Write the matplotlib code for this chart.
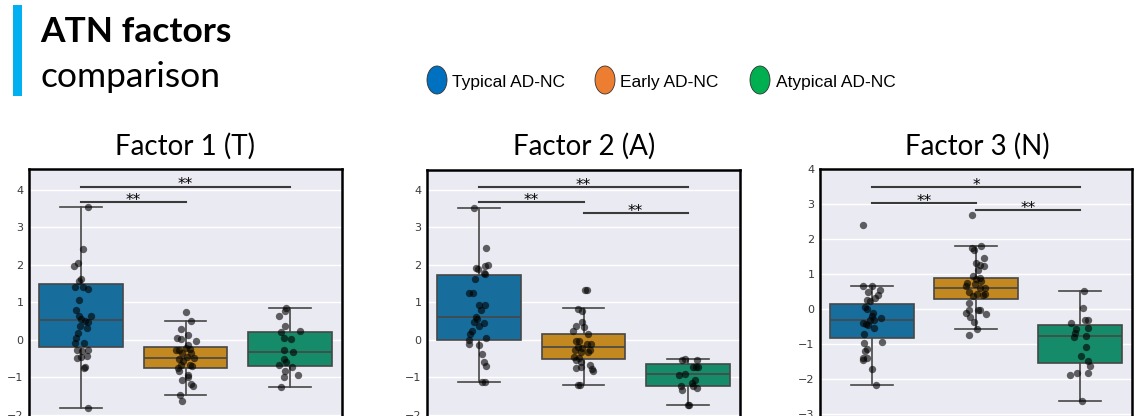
import matplotlib
matplotlib.use('Agg')
import matplotlib.pyplot as plt
from matplotlib import font_manager
from matplotlib.patches import Rectangle, Ellipse
import seaborn as sns

# %% data
groups = ['Typical AD-NC', 'Early AD-NC', 'Atypical AD-NC']
legend_colors = ['#0070C0', '#ED7D31', '#00B050']
panel_titles = ['Factor 1 (T)', 'Factor 2 (A)', 'Factor 3 (N)']

# box stats per factor: typical, early, atypical
f1_lo = [-1.82, -1.47, -1.25]
f1_q1 = [-0.19, -0.74, -0.69]
f1_med = [0.53, -0.47, -0.33]
f1_q3 = [1.48, -0.20, 0.22]
f1_hi = [3.55, 0.51, 0.84]

f2_lo = [-1.13, -1.20, -1.74]
f2_q1 = [-0.01, -0.51, -1.23]
f2_med = [0.60, -0.20, -0.91]
f2_q3 = [1.74, 0.15, -0.65]
f2_hi = [3.51, 0.84, -0.51]

f3_lo = [-2.17, -0.55, -2.62]
f3_q1 = [-0.82, 0.28, -1.54]
f3_med = [-0.31, 0.60, -0.76]
f3_q3 = [0.15, 0.90, -0.45]
f3_hi = [0.67, 1.80, 0.52]

# strip points (value, horizontal jitter)
t1_y = [3.55, 2.42, 2.06, 1.97, 1.62, 1.57, 1.40, 1.42, 1.36, 1.06, 0.80, 0.64, 0.64, 0.55, 0.51, 0.49,
        0.36, 0.33, 0.18, 0.04, -0.09, -0.07, -0.27, -0.29, -0.27, -0.47, -0.46, -0.44, -0.73, -0.76, -1.82]
t1_dx = [0.07, 0.02, -0.03, -0.07, 0.0, -0.02, -0.06, 0.02, 0.07, -0.02, -0.05, -0.02, 0.09, 0.0, 0.04, 0.07,
         -0.01, 0.06, -0.03, -0.05, 0.03, -0.06, -0.04, 0.01, 0.07, -0.04, 0.0, 0.06, 0.04, 0.03, 0.07]
e1_y = [0.74, 0.51, 0.29, 0.13, 0.04, 0.03, -0.04, -0.13, -0.27, -0.28, -0.22, -0.25, -0.36, -0.36, -0.46,
        -0.47, -0.52, -0.56, -0.67, -0.67, -0.69, -0.76, -0.84, -0.93, -1.00, -1.07, -1.18, -1.24, -1.47, -1.63]
e1_dx = [0.0, 0.05, -0.04, 0.02, -0.08, -0.04, 0.10, 0.02, -0.09, -0.06, 0.0, 0.04, -0.03, 0.05, 0.01,
         0.08, -0.06, -0.02, -0.04, 0.04, 0.06, -0.07, -0.06, 0.02, 0.02, -0.03, 0.05, 0.07, -0.05, -0.03]
a1_y = [0.84, 0.76, 0.65, 0.36, 0.24, 0.20, 0.04, 0.03, -0.27, -0.31, -0.50, -0.58, -0.67, -0.71, -0.84,
        -0.93, -1.00, -1.25]
a1_dx = [-0.04, -0.05, -0.10, -0.05, 0.10, -0.08, -0.06, 0.01, -0.06, 0.03, -0.06, -0.04, -0.10, 0.02, -0.05,
         0.08, -0.06, -0.08]

t2_y = [3.51, 2.46, 2.00, 1.98, 1.91, 1.89, 1.78, 1.75, 1.62, 1.24, 1.24, 0.93, 0.92, 0.80, 0.62, 0.55,
        0.49, 0.44, 0.36, 0.25, 0.16, 0.04, 0.00, -0.13, -0.12, -0.37, -0.58, -0.69, -1.13, -1.13]
t2_dx = [-0.05, 0.07, 0.08, 0.06, -0.03, -0.01, 0.05, 0.06, -0.04, -0.10, -0.06, 0.0, 0.06, 0.02, -0.03, -0.02,
         -0.05, 0.05, 0.0, -0.07, -0.09, 0.07, -0.10, 0.0, -0.10, 0.03, 0.05, 0.07, 0.03, 0.06]
e2_y = [1.33, 1.33, 0.83, 0.77, 0.49, 0.38, 0.34, 0.25, 0.15, -0.03, -0.04, -0.11, -0.11, -0.18, -0.22,
        -0.27, -0.27, -0.33, -0.33, -0.46, -0.47, -0.53, -0.60, -0.67, -0.74, -0.71, -0.78, -0.84, -1.20, -1.20]
e2_dx = [0.01, 0.03, -0.05, -0.01, -0.01, -0.07, 0.0, -0.10, 0.04, -0.07, -0.04, 0.03, 0.07, -0.05, -0.01,
         -0.08, 0.06, -0.02, 0.04, -0.09, -0.04, -0.07, -0.02, 0.06, -0.07, -0.02, 0.08, 0.09, -0.05, -0.03]
a2_y = [-0.53, -0.51, -0.53, -0.71, -0.73, -0.71, -0.93, -0.91, -1.07, -1.16, -1.22, -1.24, -1.27, -1.33,
        -1.74, -1.74]
a2_dx = [-0.06, -0.03, 0.09, 0.05, 0.08, 0.10, -0.08, -0.03, 0.07, 0.04, -0.07, 0.05, 0.09, -0.06, 0.0, 0.01]

t3_y = [2.40, 0.67, 0.67, 0.54, 0.48, 0.41, 0.33, 0.26, 0.24, 0.07, 0.02, -0.10, -0.19, -0.26, -0.31, -0.31,
        -0.38, -0.43, -0.46, -0.52, -0.70, -0.92, -0.95, -1.12, -1.19, -1.38, -1.38, -1.45, -1.71, -2.17]
t3_dx = [-0.09, -0.09, 0.0, 0.08, -0.04, 0.06, 0.03, -0.05, -0.02, -0.07, -0.05, 0.01, 0.0, 0.09, 0.02, -0.02,
         -0.09, -0.06, -0.04, 0.02, -0.08, 0.10, -0.08, -0.05, -0.07, -0.09, -0.05, -0.09, 0.0, 0.04]
e3_y = [2.68, 1.80, 1.74, 1.69, 1.47, 1.33, 1.26, 1.22, 1.11, 0.94, 0.90, 0.86, 0.81, 0.74, 0.71, 0.67, 0.62,
        0.60, 0.48, 0.43, 0.43, 0.38, 0.40, 0.19, -0.02, -0.02, -0.03, -0.12, -0.14, -0.22, -0.36, -0.55, -0.73]
e3_dx = [-0.04, 0.05, -0.04, -0.02, 0.08, 0.0, 0.04, 0.08, 0.02, -0.03, 0.04, 0.0, 0.05, -0.09, -0.01, -0.10,
         0.09, 0.04, -0.07, 0.01, 0.09, -0.03, 0.07, -0.07, 0.02, 0.04, -0.07, -0.10, 0.10, -0.06, -0.02, 0.01,
         -0.07]
a3_y = [0.52, 0.05, -0.31, -0.31, -0.38, -0.57, -0.54, -0.67, -0.78, -0.76, -1.08, -1.33, -1.48, -1.62, -1.81,
        -1.81, -1.88, -2.62]
a3_dx = [0.04, 0.03, 0.05, 0.08, -0.09, -0.04, 0.08, -0.05, -0.06, 0.06, 0.06, 0.01, 0.08, 0.10, -0.03, 0.08,
         -0.10, 0.02]

# significance brackets: (from, to), height, label
sig1_pairs = [(0, 1), (0, 2)]
sig1_y = [3.68, 4.09]
sig1_text = ['**', '**']
sig2_pairs = [(0, 1), (0, 2), (1, 2)]
sig2_y = [3.68, 4.07, 3.39]
sig2_text = ['**', '**', '**']
sig3_pairs = [(0, 1), (0, 2), (1, 2)]
sig3_y = [3.02, 3.48, 2.83]
sig3_text = ['**', '*', '**']

ylims = [(-2.27, 4.56), (-2.27, 4.53), (-3.30, 4.0)]

# %% layout helpers
W, H = 1136, 416
fig = plt.figure(figsize=(W / 100, H / 100), dpi=100)


def fx(px):
    return px / W


def fy(py):
    return 1 - py / H


names = {f.name for f in font_manager.fontManager.ttflist}
narrow = 'Liberation Sans Narrow' in names
legend_font = 'Liberation Sans Narrow' if narrow else 'Liberation Sans'
legend_size = 17 if narrow else 12.5

palette = [sns.desaturate(c, 0.75) for c in sns.color_palette('colorblind', 3)]

# header
fig.patches.append(Rectangle((fx(13), fy(96)), fx(9), (96 - 5) / H, transform=fig.transFigure,
                             color='#00B0F0', lw=0))
fig.text(fx(40), fy(42), 'ATN factors', fontsize=25.5, fontweight='bold', family='Lato', va='baseline')
fig.text(fx(40), fy(87), 'comparison', fontsize=25.5, family='Lato', va='baseline')

# legend
for name, col, cx, tx in zip(groups, legend_colors, [437, 605, 760], [452, 620, 776]):
    fig.patches.append(Ellipse((fx(cx), fy(80)), fx(20), 28 / H, transform=fig.transFigure,
                               facecolor=col, edgecolor='#333333', lw=0.6))
    fig.text(fx(tx), fy(87), name, fontsize=legend_size, family=legend_font, va='baseline')

# panels
ax_px = [(29, 342), (427, 740), (820, 1132)]
ax_top = [169, 170, 169]
title_cx = [185, 584, 977]
boxes = [(f1_lo, f1_q1, f1_med, f1_q3, f1_hi),
         (f2_lo, f2_q1, f2_med, f2_q3, f2_hi),
         (f3_lo, f3_q1, f3_med, f3_q3, f3_hi)]
points = [[(t1_y, t1_dx), (e1_y, e1_dx), (a1_y, a1_dx)],
          [(t2_y, t2_dx), (e2_y, e2_dx), (a2_y, a2_dx)],
          [(t3_y, t3_dx), (e3_y, e3_dx), (a3_y, a3_dx)]]
sigs = [(sig1_pairs, sig1_y, sig1_text), (sig2_pairs, sig2_y, sig2_text), (sig3_pairs, sig3_y, sig3_text)]

for i in range(3):
    x0, x1 = ax_px[i]
    bottom = 425
    ax = fig.add_axes([fx(x0), fy(bottom), fx(x1 - x0), (bottom - ax_top[i]) / H])
    ax.set_facecolor('#EAEAF2')
    ax.grid(axis='y', color='white', lw=1.0)
    ax.set_axisbelow(True)

    lo, q1, med, q3, hi = boxes[i]
    stats = [dict(whislo=lo[k], q1=q1[k], med=med[k], q3=q3[k], whishi=hi[k], fliers=[]) for k in range(3)]
    line = dict(color='#474747', lw=1.2)
    bp = ax.bxp(stats, positions=[0, 1, 2], widths=0.8, patch_artist=True, showfliers=False,
                boxprops=dict(edgecolor='#474747', lw=1.2), whiskerprops=line, capprops=line,
                medianprops=line, capwidths=0.4)
    for patch, col in zip(bp['boxes'], palette):
        patch.set_facecolor(col)

    for k, (yv, dx) in enumerate(points[i]):
        ax.scatter([k + d for d in dx], yv, s=28, color='black', alpha=0.6, lw=0, zorder=5)

    pairs, ys, labels = sigs[i]
    for (a, b), yv, lab in zip(pairs, ys, labels):
        ax.plot([a, b], [yv, yv], color='#3a3a3a', lw=1.5, zorder=6)
        ax.annotate(lab, xy=((a + b) / 2, yv), xytext=(0, -2), textcoords='offset points',
                    ha='center', va='baseline', fontsize=11, color='black', zorder=7)

    ax.set_xlim(-0.5, 2.5)
    ax.set_ylim(*ylims[i])
    ax.set_xticks([])
    lo_t = -3 if i == 2 else -2
    ax.set_yticks(range(lo_t, 5))
    ax.tick_params(axis='y', length=0, pad=4, labelsize=8, labelcolor='#3a3a3a')
    for s in ax.spines.values():
        s.set_color('black')
        s.set_linewidth(1.8)

    fig.text(fx(title_cx[i]), fy(155), panel_titles[i], fontsize=20, family='Lato',
             ha='center', va='baseline')

fig.savefig('out.png', dpi=100)
